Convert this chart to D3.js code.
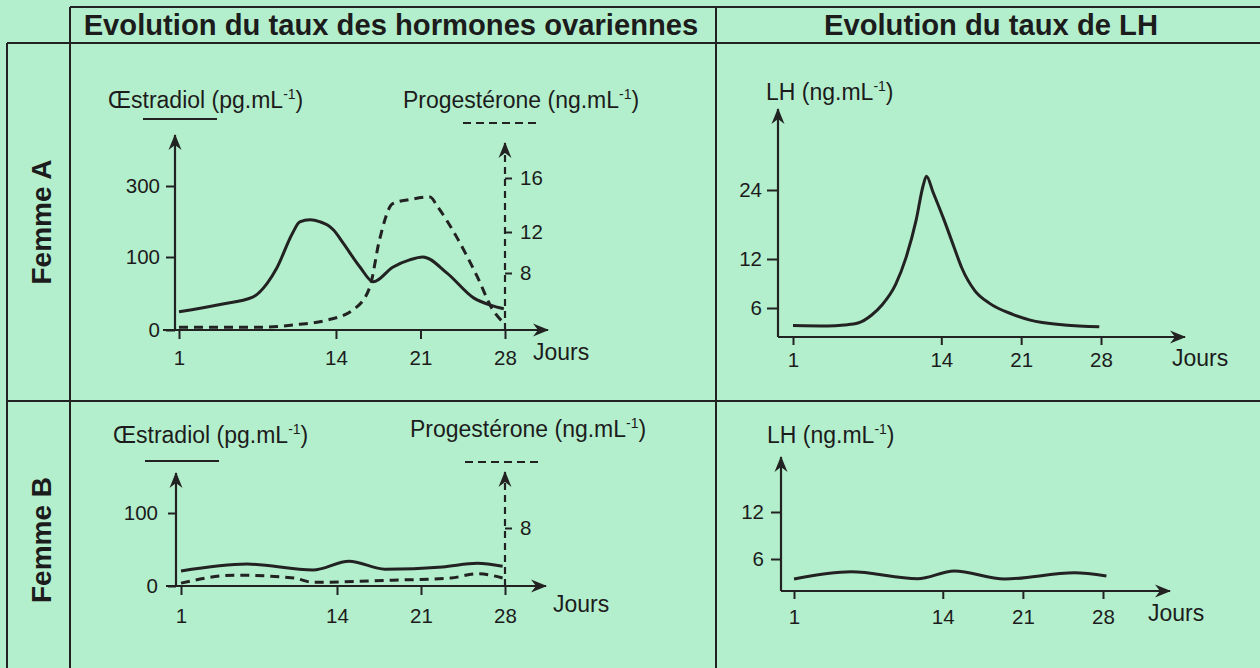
<!DOCTYPE html>
<html>
<head>
<meta charset="UTF-8">
<title>hormones_femmes_A_B</title>

<style type="text/css">
	body { margin: 0; background: #b4efcd; }
	svg text { font-family: "Liberation Sans", Arial, sans-serif; fill: #1c1c1c; }
	.head { font-size: 29.2px; font-weight: bold; text-anchor: middle; }
	.femme { font-size: 28px; font-weight: bold; text-anchor: middle; }
	.lab { font-size: 23px; }
	.tick text { font-size: 20.5px; }
	.tick line { stroke: #222; stroke-width: 2px; }
	.frame { stroke: #222; stroke-width: 2px; }
	.axe { stroke: #222; stroke-width: 2.2px; fill: none; }
	.curve { fill: none; stroke: #222; stroke-width: 3px; }
</style>

<script type="text/javascript" src="https://cdn.jsdelivr.net/npm/d3@7/dist/d3.min.js"></script>
</head>
<body>

<script type="text/javascript">

	// ---- data ----
	var dayTicks = [1, 14, 21, 28];

	var estradiolA_days = [1, 4.4, 7.1, 8.3, 9.1, 10.4, 11.0, 11.85, 12.7, 13.3, 13.8, 14.6, 16.0, 17.1, 18.7, 20.1, 21.2, 23.2, 25.4, 26.8, 27.9];
	var estradiolA_vals = [25, 35, 45, 64, 85, 167, 199, 205, 199, 190, 176, 139, 86, 66, 86, 96, 100, 78, 44, 34, 29];
	var progesteroneA_days = [1, 7.7, 11, 13.3, 15.4, 16.8, 17.6, 18.7, 20.1, 21.8, 22.4, 24, 25.7, 27, 27.9];
	var progesteroneA_vals = [0.4, 0.4, 0.8, 1.4, 2.8, 6, 11.2, 14.1, 14.4, 14.6, 13.9, 11.5, 7.5, 2.8, 1];
	var lhA_days = [1, 4, 5.5, 6.7, 7.9, 8.8, 10.0, 10.9, 11.8, 12.4, 12.7, 13.27, 14.24, 15.11, 15.8, 16.95, 18.2, 20.3, 21.8, 24.8, 27.85];
	var lhA_vals = [2.4, 2.3, 2.5, 2.9, 4.55, 6.37, 8.9, 12.2, 18.8, 24.7, 26.4, 23.65, 18.8, 14.1, 10.9, 8.1, 6.6, 4.65, 3.5, 2.5, 2.1];

	var estradiolB_days = [1, 6.5, 12, 15, 18, 22.8, 25.7, 27.8];
	var estradiolB_vals = [20.5, 30, 22, 34, 23, 26, 31, 27];
	var progesteroneB_days = [1, 5.5, 10.4, 12, 18.6, 23.5, 25.7, 27.8];
	var progesteroneB_vals = [0.4, 1.5, 1.1, 0.5, 0.8, 1.1, 1.7, 1.1];
	var lhB_days = [1, 6, 11.8, 15, 19.4, 25.5, 28.3];
	var lhB_vals = [2.25, 3.6, 2.3, 3.75, 2.25, 3.4, 2.8];

	var estradiolA_ticks = [0, 100, 300];
	var progesteroneA_ticks = [8, 12, 16];
	var lhA_ticks = [6, 12, 24];
	var estradiolB_ticks = [0, 100];
	var progesteroneB_ticks = [8];
	var lhB_ticks = [6, 12];

	var headers = ["Evolution du taux des hormones ovariennes", "Evolution du taux de LH"];
	var rows = ["Femme A", "Femme B"];

	// ---- svg ----
	var svg = d3.select("body").append("svg")
				.attr("width", 1260)
				.attr("height", 668);

	svg.append("defs").append("marker")
			.attr("id", "arrow")
			.attr("viewBox", "-16 -7 18 14")
			.attr("refX", 0).attr("refY", 0)
			.attr("markerWidth", 18).attr("markerHeight", 14)
			.attr("markerUnits", "userSpaceOnUse")
			.attr("orient", "auto")
		.append("path")
			.attr("d", "M1,0 L-15,-6.5 L-10,0 L-15,6.5 Z")
			.attr("fill", "#222");

	// table frame
	function hline(x1, x2, y) { svg.append("line").attr("class", "frame").attr("x1", x1).attr("x2", x2).attr("y1", y).attr("y2", y); }
	function vline(x, y1, y2) { svg.append("line").attr("class", "frame").attr("x1", x).attr("x2", x).attr("y1", y1).attr("y2", y2); }
	hline(70, 1260, 7);
	hline(7, 1260, 43);
	hline(7, 1260, 401);
	vline(7, 43, 668);
	vline(70, 7, 668);
	vline(716, 7, 668);

	svg.append("text").attr("class", "head").attr("x", 391).attr("y", 35).text(headers[0]);
	svg.append("text").attr("class", "head").attr("x", 991).attr("y", 35).text(headers[1]);
	svg.append("text").attr("class", "femme").attr("transform", "translate(51,222) rotate(-90)").text(rows[0]);
	svg.append("text").attr("class", "femme").attr("transform", "translate(51,540) rotate(-90)").text(rows[1]);

	function unitLabel(x, y, name, unit) {
		var t = svg.append("text").attr("class", "lab").attr("x", x).attr("y", y);
		t.append("tspan").text(name + " (" + unit);
		t.append("tspan").attr("dy", -9).style("font-size", "14px").text("-1");
		t.append("tspan").attr("dy", 9).text(")");
	}

	function curve(x, y, days, vals, dashed) {
		var pts = days.map(function (d, i) { return [d, vals[i]]; });
		var line = d3.line()
				.x(function (d) { return x(d[0]); })
				.y(function (d) { return y(d[1]); })
				.curve(d3.curveMonotoneX);
		svg.append("path").datum(pts)
				.attr("class", "curve")
				.attr("d", line)
				.attr("stroke-dasharray", dashed ? "9,6" : null);
	}

	function xAxis(x, y0, c) {
		svg.append("line").attr("class", "axe")
				.attr("x1", c.yAxisX - (c.xStart || 0)).attr("x2", c.xEnd)
				.attr("y1", y0).attr("y2", y0)
				.attr("marker-end", "url(#arrow)");
		var g = svg.append("g").attr("transform", "translate(0," + y0 + ")")
				.call(d3.axisBottom(x).tickValues(dayTicks).tickSize(c.xTickSize).tickPadding(c.xPad));
		g.select(".domain").remove();
		svg.append("text").attr("class", "lab").attr("x", c.jours[0]).attr("y", c.jours[1]).text("Jours");
	}

	function yAxisLeft(y, ticks, c, top) {
		svg.append("line").attr("class", "axe")
				.attr("x1", c.yAxisX).attr("x2", c.yAxisX)
				.attr("y1", y(0)).attr("y2", top)
				.attr("marker-end", "url(#arrow)");
		var g = svg.append("g").attr("transform", "translate(" + c.yAxisX + ",0)")
				.call(d3.axisLeft(y).tickValues(ticks).tickSize(c.yTickSize).tickPadding(c.yPad));
		g.select(".domain").remove();
	}

	function drawOvarian(c, estDays, estVals, estTicks, progDays, progVals, progTicks) {
		var x = d3.scaleLinear().domain([1, 28]).range(c.xRange);
		var yE = d3.scaleLinear().domain(c.estDomain).range(c.estRange);
		var yP = d3.scaleLinear().domain(c.progDomain).range(c.progRange);

		unitLabel(c.estLabel[0], c.estLabel[1], "Œstradiol", "pg.mL");
		unitLabel(c.progLabel[0], c.progLabel[1], "Progestérone", "ng.mL");
		svg.append("line").attr("class", "axe").attr("stroke-width", 2)
				.attr("x1", c.estLegend[0]).attr("x2", c.estLegend[1]).attr("y1", c.estLegend[2]).attr("y2", c.estLegend[2]);
		svg.append("line").attr("class", "axe").attr("stroke-dasharray", "8,5")
				.attr("x1", c.progLegend[0]).attr("x2", c.progLegend[1]).attr("y1", c.progLegend[2]).attr("y2", c.progLegend[2]);

		yAxisLeft(yE, estTicks, c, c.yTop);

		// progesterone axis (dashed, right)
		svg.append("line").attr("class", "axe").attr("stroke-dasharray", "7,5")
				.attr("x1", x(28)).attr("x2", x(28))
				.attr("y1", yP(0)).attr("y2", c.progTop)
				.attr("marker-end", "url(#arrow)");
		var gp = svg.append("g").attr("transform", "translate(" + x(28) + ",0)")
				.call(d3.axisRight(yP).tickValues(progTicks).tickSize(7).tickPadding(8));
		gp.select(".domain").remove();

		xAxis(x, yE(0), c);

		curve(x, yE, estDays, estVals, false);
		curve(x, yP, progDays, progVals, true);
	}

	function drawLH(c, days, vals, ticks) {
		var x = d3.scaleLinear().domain([1, 28]).range(c.xRange);
		var y = d3.scaleLinear().domain(c.domain).range(c.range);

		unitLabel(c.label[0], c.label[1], "LH", "ng.mL");
		yAxisLeft(y, ticks, c, c.yTop);
		xAxis(x, y(0), c);
		curve(x, y, days, vals, false);
	}

	drawOvarian({
		xRange: [179, 505], yAxisX: 175, xStart: 12, xEnd: 548,
		estDomain: [0, 100, 300], estRange: [330, 257, 186],
		progDomain: [0, 8, 12, 16], progRange: [330, 273, 232, 178],
		yTop: 135, progTop: 143,
		xTickSize: 9, xPad: 11, yTickSize: 9, yPad: 6,
		estLabel: [108, 108], progLabel: [403, 108],
		estLegend: [143, 217, 119], progLegend: [463, 538, 123],
		jours: [533, 360]
	}, estradiolA_days, estradiolA_vals, estradiolA_ticks, progesteroneA_days, progesteroneA_vals, progesteroneA_ticks);

	drawOvarian({
		xRange: [181, 505], yAxisX: 176, xStart: 10, xEnd: 546,
		estDomain: [0, 100], estRange: [586, 513],
		progDomain: [0, 8], progRange: [586, 528],
		yTop: 473, progTop: 472,
		xTickSize: 9, xPad: 13, yTickSize: 8, yPad: 10,
		estLabel: [113, 443], progLabel: [410, 437],
		estLegend: [145, 219, 461], progLegend: [465, 540, 462],
		jours: [553, 612]
	}, estradiolB_days, estradiolB_vals, estradiolB_ticks, progesteroneB_days, progesteroneB_vals, progesteroneB_ticks);

	drawLH({
		xRange: [793, 1101], yAxisX: 778, xEnd: 1185,
		domain: [0, 6, 12, 24], range: [337, 308, 259, 190],
		yTop: 109, xTickSize: 8, xPad: 7, yTickSize: 11, yPad: 5,
		label: [766, 100], jours: [1172, 366]
	}, lhA_days, lhA_vals, lhA_ticks);

	drawLH({
		xRange: [794, 1103], yAxisX: 781, xEnd: 1170,
		domain: [0, 6, 12], range: [591, 559, 512],
		yTop: 457, xTickSize: 8, xPad: 10, yTickSize: 10, yPad: 7,
		label: [767, 443], jours: [1148, 621]
	}, lhB_days, lhB_vals, lhB_ticks);

</script>

</body>
</html>
